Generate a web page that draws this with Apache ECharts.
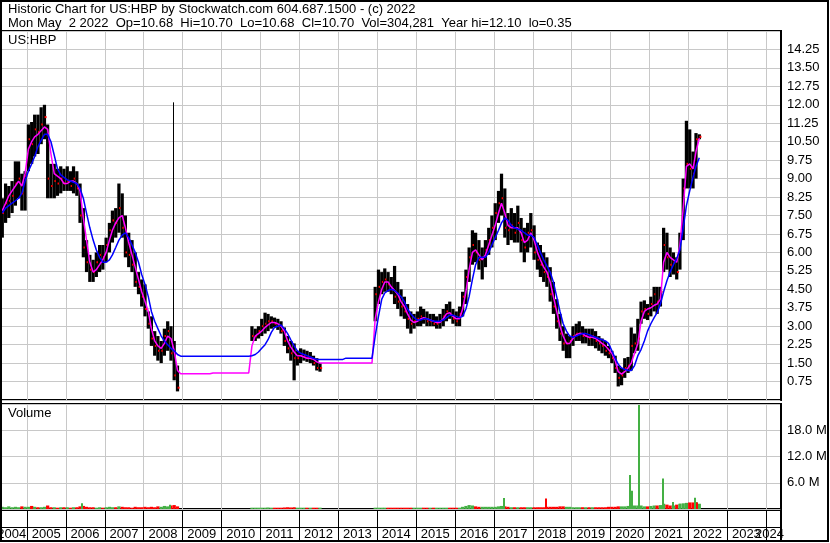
<!DOCTYPE html>
<html><head><meta charset="utf-8">
<script src="https://cdn.jsdelivr.net/npm/echarts@6/dist/echarts.min.js"></script>
<style>html,body{margin:0;padding:0;background:#fff}#c{width:830px;height:543px}</style>
</head><body><div id="c"></div>
<script>
// ---------- DATA (monthly, first month = 2004-05) ----------
const startYear = 2004, startMonth = 5;
const highs = [
 8.2,8.8,8.7,8.9,9.7,9.7,9.2,9.3,
 11.2,11.3,11.6,11.6,11.9,12.0,11.2,9.6,9.6,9.4,9.5,9.4,
 9.5,9.3,9.5,9.3,8.8,7.8,6.5,5.9,5.7,6.0,6.3,6.3,
 6.6,7.2,7.7,7.8,8.8,8.4,7.5,6.8,6.5,6.0,5.2,4.9,
 4.7,3.6,3.4,2.8,2.6,2.4,2.9,3.2,3.0,2.4,1.4,null,
 null,null,null,null,null,null,null,null,null,null,null,null,
 null,null,null,null,null,null,null,null,null,3.0,2.9,3.0,
 3.3,3.55,3.5,3.4,3.35,3.3,3.2,2.95,2.6,2.4,2.3,2.0,
 2.1,2.05,2.0,1.95,1.8,1.7,1.5,null,null,null,null,null,
 null,null,null,null,null,null,null,null,null,null,null,4.6,
 5.3,5.2,5.35,5.2,5.0,5.45,4.8,4.5,4.2,3.9,3.6,3.5,
 3.6,3.8,3.7,3.6,3.5,3.5,3.4,3.5,3.7,3.9,4.0,3.7,
 3.6,3.8,4.4,5.3,6.2,6.9,6.8,6.5,6.2,6.5,7.0,7.5,
 8.0,8.5,9.2,8.6,7.6,7.8,7.6,7.9,7.4,7.0,7.2,7.6,
 7.1,6.4,6.3,6.0,5.8,5.4,4.8,4.1,3.5,3.0,2.7,2.6,
 3.0,3.1,3.2,3.0,2.9,2.9,2.9,2.8,2.6,2.5,2.4,2.2,
 2.0,1.8,1.4,1.3,1.7,1.75,2.95,2.7,3.3,4.0,4.05,3.9,
 4.2,4.6,4.6,4.6,7.0,6.8,6.2,6.0,5.8,6.8,9.0,11.35,
 11.0,10.1,10.85,10.8
];
const lows = [
 6.6,7.2,7.4,7.6,7.9,8.2,7.7,7.7,
 9.3,9.6,9.9,10.0,10.4,10.6,8.2,8.2,8.2,8.3,8.4,8.5,
 8.5,8.5,8.4,8.3,7.2,5.8,5.2,4.8,4.8,5.0,5.2,5.3,
 5.6,6.0,6.4,6.6,6.8,6.6,5.8,5.4,5.2,4.6,4.3,3.8,
 3.4,2.9,2.2,1.8,1.6,1.5,1.8,2.0,1.6,0.8,0.35,null,
 null,null,null,null,null,null,null,null,null,null,null,null,
 null,null,null,null,null,null,null,null,null,2.4,2.4,2.5,
 2.6,2.7,2.8,2.9,2.95,2.85,2.7,2.2,1.9,1.6,0.8,1.4,
 1.5,1.6,1.55,1.5,1.4,1.2,1.15,null,null,null,null,null,
 null,null,null,null,null,null,null,null,null,null,null,3.2,
 3.9,4.3,4.4,4.4,4.3,3.9,3.7,3.4,3.3,2.9,2.7,2.9,
 3.0,3.0,3.1,3.0,3.0,3.0,2.9,2.9,3.0,3.2,3.3,3.1,
 3.0,3.0,3.4,3.9,4.8,5.5,5.6,5.3,4.9,5.4,5.9,6.2,
 6.5,7.2,7.5,6.6,6.3,6.5,6.4,6.4,6.0,5.6,6.0,6.2,
 5.7,5.3,5.0,4.8,4.6,4.0,3.5,2.9,2.4,2.0,1.7,1.7,
 2.2,2.4,2.4,2.3,2.3,2.2,2.2,2.1,2.0,1.9,1.8,1.7,
 1.5,1.1,0.55,0.6,0.9,1.1,1.2,1.9,2.0,3.1,3.3,3.25,
 3.4,3.6,3.5,3.8,5.2,5.3,5.0,5.1,4.9,5.3,6.5,8.6,
 8.6,8.6,9.0,10.6
];
const closes = [
 7.6,8.0,8.1,8.3,8.8,9.0,8.4,9.1,
 10.6,10.4,11.0,10.9,11.2,11.5,9.0,8.7,8.9,8.8,9.0,8.8,
 8.9,8.7,9.0,8.6,7.5,6.2,5.6,5.3,5.2,5.6,5.9,5.8,
 6.3,6.9,7.3,7.2,7.8,7.0,6.0,5.9,5.5,4.8,4.6,4.2,
 3.7,3.1,2.5,2.2,2.0,2.0,2.6,2.8,1.9,1.0,0.5,null,
 null,null,null,null,null,null,null,null,null,null,null,null,
 null,null,null,null,null,null,null,null,null,2.6,2.6,2.8,
 3.0,3.1,3.2,3.2,3.1,3.0,2.8,2.4,2.1,1.9,1.7,1.7,
 1.8,1.8,1.7,1.7,1.5,1.3,1.3,null,null,null,null,null,
 null,null,null,null,null,null,null,null,null,null,null,4.3,
 4.6,4.8,4.9,4.7,4.5,4.2,4.0,3.8,3.6,3.3,3.1,3.2,
 3.3,3.4,3.3,3.2,3.2,3.1,3.1,3.2,3.4,3.6,3.5,3.3,
 3.2,3.5,4.2,5.0,5.8,6.3,6.0,5.7,5.8,6.1,6.5,7.0,
 7.6,8.0,8.2,7.0,6.9,7.1,6.8,7.2,6.5,6.2,6.8,6.9,
 6.0,5.7,5.5,5.2,5.0,4.3,3.8,3.2,2.7,2.3,2.3,2.4,
 2.6,2.7,2.7,2.6,2.6,2.5,2.6,2.4,2.3,2.2,2.0,1.9,
 1.7,1.3,0.9,1.0,1.3,1.4,2.2,2.3,2.5,3.6,3.7,3.5,
 3.9,4.3,4.0,4.4,6.3,5.8,5.5,5.6,5.2,6.5,8.6,9.6,
 9.4,9.2,10.6,10.7
];
// short moving average (magenta)
const maFast = [
 7.7,8.0,8.3,8.5,8.7,8.9,8.7,9.2,
 10.2,10.5,10.7,10.8,10.95,11.1,11.0,10.0,9.2,9.1,9.0,8.8,
 8.8,8.9,8.9,8.8,8.5,7.4,6.5,5.6,5.2,5.3,5.5,5.7,
 6.0,6.5,6.9,7.2,7.4,7.5,7.0,6.4,5.9,5.4,4.9,4.4,
 4.0,3.6,2.9,2.4,2.2,2.1,2.3,2.6,2.5,2.0,1.2,1.07,
 1.07,1.07,1.07,1.07,1.07,1.07,1.07,1.07,1.07,1.1,1.1,1.1,
 1.1,1.1,1.1,1.1,1.1,1.1,1.1,1.1,1.1,2.2,2.6,2.7,
 2.8,2.95,3.05,3.15,3.15,3.1,3.0,2.8,2.4,2.15,1.95,1.8,
 1.8,1.75,1.7,1.7,1.65,1.55,1.5,1.5,1.5,1.5,1.5,1.5,
 1.5,1.5,1.5,1.5,1.5,1.5,1.5,1.5,1.5,1.5,1.5,3.3,
 4.0,4.5,4.8,4.8,4.6,4.45,4.3,4.0,3.8,3.5,3.25,3.15,
 3.2,3.3,3.35,3.3,3.25,3.2,3.15,3.15,3.3,3.5,3.55,3.4,
 3.3,3.3,3.7,4.4,5.3,6.0,6.1,5.9,5.7,5.9,6.3,6.7,
 7.1,7.6,8.0,7.6,7.1,7.0,7.0,7.0,6.8,6.4,6.5,6.8,
 6.5,6.0,5.7,5.4,5.2,4.8,4.2,3.6,3.0,2.6,2.3,2.3,
 2.5,2.65,2.7,2.7,2.6,2.55,2.55,2.5,2.4,2.3,2.2,2.05,
 1.9,1.6,1.15,1.05,1.15,1.3,1.5,1.9,2.3,3.2,3.6,3.7,
 3.75,3.85,3.9,4.1,5.6,6.0,5.8,5.7,5.6,6.3,7.8,9.5,
 9.6,9.4,10.1,10.65
];
// long moving average (blue)
const maSlow = [
 7.6,7.8,7.9,8.0,8.1,8.2,8.4,8.9,
 9.3,9.6,9.9,10.3,10.55,10.8,10.8,10.5,9.95,9.4,9.15,9.05,
 8.95,8.9,8.85,8.8,8.6,8.2,7.6,7.0,6.5,6.1,5.8,5.6,
 5.6,5.7,5.9,6.2,6.5,6.7,6.8,6.6,6.3,6.0,5.6,5.1,
 4.7,4.2,3.6,3.2,2.9,2.6,2.4,2.25,2.1,2.0,1.85,1.78,
 1.78,1.78,1.78,1.78,1.78,1.78,1.78,1.78,1.78,1.78,1.78,1.78,
 1.78,1.78,1.78,1.78,1.78,1.78,1.78,1.78,1.78,1.8,1.85,1.95,
 2.1,2.25,2.45,2.75,2.95,3.0,3.05,2.9,2.7,2.45,2.2,2.0,
 1.9,1.85,1.8,1.75,1.7,1.65,1.65,1.65,1.65,1.65,1.65,1.65,
 1.65,1.65,1.7,1.7,1.7,1.7,1.7,1.7,1.7,1.7,1.7,2.6,
 3.4,4.1,4.35,4.45,4.5,4.45,4.35,4.2,4.0,3.7,3.5,3.35,
 3.25,3.25,3.3,3.3,3.25,3.2,3.2,3.2,3.25,3.35,3.45,3.45,
 3.4,3.35,3.4,3.7,4.2,4.9,5.5,5.8,5.8,5.8,6.0,6.3,
 6.6,6.9,7.2,7.4,7.3,7.1,7.0,6.95,6.9,6.8,6.7,6.7,
 6.6,6.3,6.0,5.7,5.45,5.2,4.8,4.2,3.6,3.1,2.8,2.6,
 2.55,2.6,2.65,2.7,2.7,2.65,2.6,2.55,2.5,2.45,2.4,2.3,
 2.0,1.7,1.45,1.3,1.25,1.2,1.2,1.4,1.8,2.05,2.4,2.8,
 3.1,3.35,3.55,3.9,4.4,4.85,5.2,5.5,5.75,6.1,7.0,7.9,
 8.5,9.05,9.5,9.85
];
// typical daily volume per month (millions)
const volBase = [
 0.5,0.4,0.6,0.4,0.5,0.4,0.6,0.5,
 0.5,0.7,0.5,0.4,0.4,0.5,0.8,0.4,0.4,0.3,0.4,0.4,
 0.4,0.3,0.4,0.4,0.6,0.7,0.5,0.4,0.4,0.3,0.4,0.3,
 0.4,0.5,0.4,0.4,0.6,0.5,0.4,0.4,0.3,0.5,0.4,0.4,
 0.5,0.4,0.5,0.4,0.6,0.5,0.7,0.6,0.8,0.9,0.6,null,
 null,null,null,null,null,null,null,null,null,null,null,null,
 null,null,null,null,null,null,null,null,null,0.3,0.3,0.3,
 0.3,0.3,0.35,0.3,0.3,0.3,0.3,0.35,0.4,0.35,0.4,0.3,
 0.3,0.3,0.3,0.3,0.3,0.3,0.3,null,null,null,null,null,
 null,null,null,null,null,null,null,null,null,null,null,0.3,
 0.3,0.3,0.3,0.3,0.3,0.3,0.3,0.3,0.3,0.3,0.3,0.3,
 0.3,0.3,0.3,0.3,0.3,0.3,0.3,0.3,0.3,0.3,0.3,0.3,
 0.3,0.3,0.5,0.7,0.9,0.8,0.6,0.5,0.5,0.5,0.5,0.5,
 0.5,0.6,0.7,0.6,0.5,0.4,0.4,0.4,0.4,0.4,0.4,0.4,
 0.4,0.4,0.4,0.4,0.5,0.5,0.5,0.5,0.6,0.6,0.5,0.5,
 0.4,0.4,0.4,0.4,0.4,0.4,0.4,0.4,0.4,0.4,0.4,0.5,
 0.5,0.5,0.6,0.6,0.6,0.7,1.2,0.8,0.8,0.8,0.6,0.6,
 0.7,0.8,0.8,0.9,1.2,1.0,0.8,0.8,1.0,1.2,1.3,1.4,
 1.5,1.5,1.6,1.2
];
// single-day volume spikes (millions)
const spikeDates = ['2006-06-05','2008-09-10','2017-04-10','2018-05-10','2020-07-08','2020-07-20','2020-09-28','2021-05-10','2021-08-10','2021-10-20','2022-03-05','2022-03-25'];
const spikeVols  = [1.3,1.0,2.5,2.4,7.8,4.2,23.8,7.0,1.6,1.2,2.6,1.5];
const spikeUp    = [true,true,true,false,true,true,true,true,true,true,true,false];
// bad print in Oct 2008
const badTickDate = '2008-10-08', badTickHigh = 12.1, badTickLow = 1.0;
const yearTicks = [2005,2006,2007,2008,2009,2010,2011,2012,2013,2014,2015,2016,2017,2018,2019,2020,2021,2022,2023,2024];
const yearLabels = [2004,2005,2006,2007,2008,2009,2010,2011,2012,2013,2014,2015,2016,2017,2018,2019,2020,2021,2022,2023,2024];
const headerLine1 = 'Historic Chart for US:HBP by Stockwatch.com 604.687.1500 - (c) 2022';
const headerLine2 = 'Mon May  2 2022  Op=10.68  Hi=10.70  Lo=10.68  Cl=10.70  Vol=304,281  Year hi=12.10  lo=0.35';
const symbolLabel = 'US:HBP', volumeLabel = 'Volume';
const priceMin = 0, priceMax = 15, priceStep = 0.75;
const volMax = 24, volStep = 6;
const xStart = '2004-05-04', xEnd = '2024-05-22';

// ---------- BUILD ----------
const FONT = "'Liberation Sans', Arial, sans-serif";
const DAY = 86400000, YEAR_MS = 365.25 * DAY, MONTH_MS = YEAR_MS / 12;
const mTime = i => Date.UTC(startYear, startMonth - 1 + i, 16);
function dms(s){ const [y,m,d] = s.split('-').map(Number); return Date.UTC(y, m - 1, d); }
const xMin = dms(xStart), xMax = dms(xEnd);
const ohlc = [];
highs.forEach((h,i) => { if (h != null) ohlc.push([mTime(i), h, lows[i], closes[i]]); });
const fastLine = maFast.map((v,i) => [mTime(i), v]);
const slowLine = maSlow.map((v,i) => [mTime(i), v]);
const volData = [];
volBase.forEach((v,i) => { if (v != null) volData.push([mTime(i), v, closes[i-1]!=null && closes[i] < closes[i-1] ? 0 : 1]); });
const spikeData = spikeDates.map((d,i) => [dms(d), spikeVols[i], spikeUp[i] ? 1 : 0]);

const GREEN = '#44b044', RED = '#ff0000', GRIDC = '#c8c8c8';
// panel layout (pixels)
const P_TOP = 31, P_BOT = 400, V_TOP = 404, V_BOT = 509, S_TOP = 510, S_BOT = 541;

function xAxisFor(gi){
  return { type:'time', gridIndex:gi, min:xMin, max:xMax,
    axisLine:{show:false}, axisTick:{show:false}, axisLabel:{show:false}, splitLine:{show:false} };
}

const option = {
  animation:false,
  useUTC:true,
  backgroundColor:'#fff',
  title:{ text: headerLine1 + '\n' + headerLine2, left:3, top:-3,
    textStyle:{ fontFamily:FONT, fontSize:13, fontWeight:'normal', color:'#000', lineHeight:14 } },
  grid:[
    {left:1, top:P_TOP, width:780, height:P_BOT-P_TOP, show:true, borderColor:'#000', borderWidth:2, backgroundColor:'transparent'},
    {left:1, top:V_TOP, width:780, height:V_BOT-V_TOP, show:true, borderColor:'#000', borderWidth:2, backgroundColor:'transparent'},
    {left:1, top:S_TOP, width:780, height:S_BOT-S_TOP, show:true, borderColor:'#000', borderWidth:2, backgroundColor:'transparent'}
  ],
  xAxis:[ xAxisFor(0), xAxisFor(1), xAxisFor(2) ],
  yAxis:[
    { type:'value', gridIndex:0, position:'right', min:priceMin, max:priceMax, interval:priceStep,
      axisLine:{show:true, lineStyle:{color:'#000', width:2}}, axisTick:{show:false},
      splitLine:{lineStyle:{color:GRIDC, width:1}}, splitArea:{show:false},
      axisLabel:{ showMinLabel:false, showMaxLabel:false, margin:6, color:'#000', fontFamily:FONT, fontSize:13,
        formatter: v => v.toFixed(2) } },
    { type:'value', gridIndex:1, position:'right', min:0, max:volMax, interval:volStep,
      axisLine:{show:true, lineStyle:{color:'#000', width:2}}, axisTick:{show:false},
      splitLine:{lineStyle:{color:GRIDC, width:1}}, splitArea:{show:false},
      axisLabel:{ showMinLabel:false, showMaxLabel:false, margin:6, color:'#000', fontFamily:FONT, fontSize:13,
        formatter: v => v.toFixed(1) + ' M' } },
    { type:'value', gridIndex:2, min:0, max:1, show:false }
  ],
  graphic:[
    { type:'rect', shape:{x:1, y:1, width:827, height:540}, style:{fill:'none', stroke:'#000', lineWidth:2}, z:100 },
    { type:'line', shape:{x1:1, y1:527.5, x2:781, y2:527.5}, style:{stroke:'#000', lineWidth:1}, z:100 },
    { type:'text', left:8, top:34, style:{ text:symbolLabel, font:"13px 'Liberation Sans', Arial", fill:'#000' }, z:100 },
    { type:'text', left:8, top:407, style:{ text:volumeLabel, font:"13px 'Liberation Sans', Arial", fill:'#000' }, z:100 }
  ],
  series:[
    { type:'custom', name:'year grid', xAxisIndex:2, yAxisIndex:2, z:10, clip:false, silent:true,
      data: yearTicks.map(y => [Date.UTC(y, 0, 1), 0.5]),
      renderItem(params, api){
        const x = Math.round(api.coord([api.value(0), 0])[0]);
        return { type:'group', children:[
          { type:'rect', shape:{x:x, y:P_TOP, width:1, height:P_BOT-P_TOP}, style:{fill:GRIDC} },
          { type:'rect', shape:{x:x, y:V_TOP, width:1, height:V_BOT-V_TOP}, style:{fill:GRIDC} },
          { type:'rect', shape:{x:x, y:S_TOP, width:1, height:S_BOT-S_TOP}, style:{fill:'#000'} }
        ] };
      } },
    { type:'custom', name:'price', xAxisIndex:0, yAxisIndex:0, z:11, clip:true, data:ohlc,
      renderItem(params, api){
        const t = api.value(0);
        const top = api.coord([t, api.value(1)]), bot = api.coord([t, api.value(2)]), cl = api.coord([t, api.value(3)]);
        const w = api.size([MONTH_MS, 0])[0];
        return { type:'group', children:[
          { type:'rect', shape:{x: top[0]-w/2, y: top[1], width: w, height: Math.max(1, bot[1]-top[1])}, style:{fill:'#000'} },
          { type:'rect', shape:{x: top[0]+w/2-1.5, y: cl[1]-1, width:2, height:2}, style:{fill:RED} }
        ] };
      } },
    { type:'custom', name:'bad tick', xAxisIndex:0, yAxisIndex:0, z:11, clip:true,
      data:[[dms(badTickDate), badTickHigh, badTickLow]],
      renderItem(params, api){
        const a = api.coord([api.value(0), api.value(1)]), b = api.coord([api.value(0), api.value(2)]);
        const x = Math.round(a[0]) + 0.5;
        return { type:'line', shape:{x1:x, y1:a[1], x2:x, y2:b[1]}, style:{stroke:'#000', lineWidth:1} };
      } },
    { type:'line', name:'MA fast', xAxisIndex:0, yAxisIndex:0, z:12, data:fastLine, showSymbol:false,
      lineStyle:{color:'#ff00ff', width:1.5} },
    { type:'line', name:'MA slow', xAxisIndex:0, yAxisIndex:0, z:12, data:slowLine, showSymbol:false,
      lineStyle:{color:'#0000ff', width:1.5} },
    { type:'custom', name:'volume', xAxisIndex:1, yAxisIndex:1, z:11, clip:true, data:volData,
      renderItem(params, api){
        const t = api.value(0);
        const a = api.coord([t, api.value(1)]), b = api.coord([t, 0]);
        const w = api.size([MONTH_MS, 0])[0];
        return { type:'rect', shape:{x:a[0]-w/2, y:a[1], width:w, height:b[1]-a[1]},
          style:{fill: api.value(2) ? GREEN : RED} };
      } },
    { type:'custom', name:'volume spikes', xAxisIndex:1, yAxisIndex:1, z:12, clip:true, data:spikeData,
      renderItem(params, api){
        const t = api.value(0);
        const a = api.coord([t, api.value(1)]), b = api.coord([t, 0]);
        return { type:'rect', shape:{x:Math.round(a[0])-1, y:a[1], width:2, height:b[1]-a[1]},
          style:{fill: api.value(2) ? GREEN : RED} };
      } },
    { type:'custom', name:'years', xAxisIndex:2, yAxisIndex:2, z:13, clip:false,
      data: yearLabels.map(y => [Date.UTC(y, 6, 2), 0.5, y]),
      renderItem(params, api){
        const cs = params.coordSys;
        const y = api.value(2);
        let x = api.coord([api.value(0), 0])[0];
        let align = 'center';
        if (x - 15 < cs.x) { x = api.coord([Date.UTC(y + 1, 0, 1), 0])[0] - 0.5; align = 'right'; }
        else if (x + 15 > cs.x + cs.width) { x = cs.x + cs.width + 3; align = 'right'; }
        return { type:'text', x:x, y:cs.y + cs.height - 7,
          style:{ text:String(y), textAlign:align, textVerticalAlign:'middle', font:"13px 'Liberation Sans', Arial", fill:'#000' } };
      } }
  ]
};
const chart = echarts.init(document.getElementById('c'), null, {renderer:'canvas'});
chart.setOption(option);
</script></body></html>
